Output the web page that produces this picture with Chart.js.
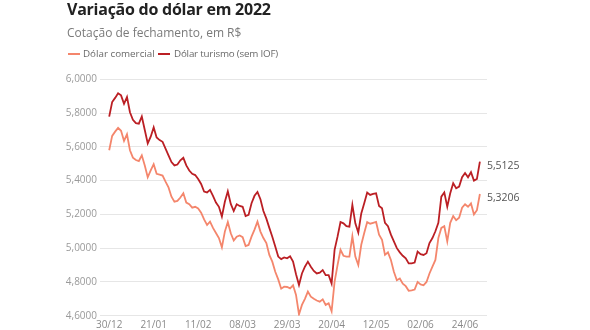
<!DOCTYPE html>
<html>
<head>
<meta charset="utf-8">
<script src="https://cdn.jsdelivr.net/npm/chart.js@4"></script>
<style>
  html,body{margin:0;padding:0;background:#fff;width:590px;height:330px;overflow:hidden;font-family:'Open Sans',sans-serif;}
  #wrap{position:relative;width:590px;height:330px;}
  canvas{position:absolute;left:0;top:0;}
  .t{position:absolute;white-space:nowrap;line-height:1;}
  #title{left:67px;top:0.8px;font-weight:700;font-size:16px;letter-spacing:-0.25px;color:#222;}
  #sub{left:67px;top:26.6px;font-size:12px;color:#7a7a7a;}
  .sw{position:absolute;height:2px;width:12px;top:53px;}
  .lg{position:absolute;top:49px;font-size:9.8px;color:#6a6a6a;white-space:nowrap;line-height:1;}
</style>
</head>
<body>
<div id="wrap">
  <canvas id="c" width="590" height="330"></canvas>
  <div class="t" id="title">Variação do dólar em 2022</div>
  <div class="t" id="sub">Cotação de fechamento, em R$</div>
  <div class="sw" style="left:68px;background:#f4866c"></div>
  <div class="lg" style="left:83px">Dólar comercial</div>
  <div class="sw" style="left:158px;background:#bb1f24"></div>
  <div class="lg" style="left:174px;letter-spacing:-0.2px">Dólar turismo (sem IOF)</div>
</div>
<script>
const dateLabels = ['30/12',
 '03/01','04/01','05/01','06/01','07/01','10/01','11/01','12/01','13/01','14/01',
 '17/01','18/01','19/01','20/01','21/01','24/01','25/01','26/01','27/01','28/01','31/01',
 '01/02','02/02','03/02','04/02','07/02','08/02','09/02','10/02','11/02',
 '14/02','15/02','16/02','17/02','18/02','21/02','22/02','23/02','24/02','25/02',
 '02/03','03/03','04/03','07/03','08/03','09/03','10/03','11/03',
 '14/03','15/03','16/03','17/03','18/03','21/03','22/03','23/03','24/03','25/03',
 '28/03','29/03','30/03','31/03',
 '01/04','04/04','05/04','06/04','07/04','08/04','11/04','12/04','13/04','14/04',
 '18/04','19/04','20/04','22/04','25/04','26/04','27/04','28/04','29/04',
 '02/05','03/05','04/05','05/05','06/05','09/05','10/05','11/05','12/05','13/05',
 '16/05','17/05','18/05','19/05','20/05','23/05','24/05','25/05','26/05','27/05',
 '30/05','31/05',
 '01/06','02/06','03/06','06/06','07/06','08/06','09/06','10/06',
 '13/06','14/06','15/06','17/06','20/06','21/06','22/06','23/06','24/06',
 '27/06','28/06','29/06','30/06','01/07'];

const dolarComercial = [
 5.5799,5.665,5.69,5.712,5.695,5.635,5.674,5.58,5.536,5.522,
 5.516,5.55,5.49,5.42,5.46,5.497,5.44,5.435,5.43,5.394,
 5.36,5.305,5.275,5.28,5.30,5.325,5.27,5.26,5.24,5.245,
 5.235,5.21,5.17,5.137,5.157,5.12,5.09,5.06,5.005,5.098,
 5.155,5.088,5.045,5.068,5.075,5.065,5.012,5.019,5.068,5.11,
 5.157,5.098,5.06,5.03,4.96,4.92,4.86,4.815,4.76,4.772,
 4.77,4.762,4.78,4.723,4.6075,4.664,4.70,4.743,4.713,4.70,
 4.69,4.683,4.697,4.664,4.674,4.626,4.80,4.90,4.99,4.955,
 4.95,4.95,5.07,4.95,4.90,5.02,5.09,5.155,5.145,5.15,
 5.155,5.08,5.05,4.96,4.975,4.93,4.86,4.81,4.82,4.79,
 4.775,4.748,4.75,4.755,4.80,4.785,4.78,4.80,4.85,4.89,
 4.93,5.06,5.12,5.13,5.04,5.15,5.19,5.165,5.18,5.24,
 5.26,5.245,5.265,5.20,5.225,5.3206];

const dolarTurismo = [
 5.779,5.865,5.89,5.917,5.905,5.855,5.895,5.805,5.76,5.74,
 5.737,5.78,5.70,5.62,5.66,5.715,5.655,5.64,5.63,5.59,
 5.55,5.51,5.49,5.495,5.52,5.535,5.49,5.46,5.44,5.433,
 5.41,5.38,5.335,5.33,5.345,5.31,5.27,5.245,5.187,5.275,
 5.337,5.262,5.22,5.26,5.25,5.245,5.19,5.197,5.266,5.31,
 5.333,5.29,5.22,5.175,5.12,5.068,5.01,4.95,4.935,4.945,
 4.94,4.952,4.92,4.845,4.782,4.85,4.89,4.92,4.89,4.865,
 4.85,4.855,4.87,4.84,4.84,4.79,4.99,5.068,5.155,5.147,
 5.13,5.127,5.256,5.147,5.092,5.206,5.266,5.329,5.315,5.321,
 5.325,5.25,5.236,5.15,5.13,5.08,5.04,5.00,4.975,4.955,
 4.94,4.91,4.91,4.915,4.98,4.965,4.96,4.97,5.03,5.06,
 5.10,5.15,5.305,5.33,5.245,5.325,5.385,5.355,5.365,5.42,
 5.445,5.42,5.45,5.40,5.41,5.5125];

const xTickIndex = [0,15,30,45,60,75,90,105,120];
const yTicks = [4.6,4.8,5.0,5.2,5.4,5.6,5.8,6.0];

const fmt = v => v.toFixed(4).replace('.', ',');

const endLabels = {
  id: 'endLabels',
  afterDatasetsDraw(chart) {
    const ctx = chart.ctx;
    ctx.save();
    ctx.font = "10.5px 'Open Sans'";
    ctx.fillStyle = '#555';
    ctx.textAlign = 'left';
    ctx.textBaseline = 'middle';
    chart.data.datasets.forEach((ds, i) => {
      const meta = chart.getDatasetMeta(i);
      const pt = meta.data[meta.data.length - 1];
      const v = ds.data[ds.data.length - 1].y;
      ctx.fillText(fmt(v), pt.x + 7, pt.y + 4);
    });
    ctx.restore();
  }
};

new Chart(document.getElementById('c'), {
  type: 'line',
  data: {
    datasets: [
      {
        label: 'Dólar comercial',
        data: dolarComercial.map((v, i) => ({x: i, y: v})),
        borderColor: '#f4866c',
        borderWidth: 1.8,
        pointRadius: 0,
        tension: 0,
        fill: false
      },
      {
        label: 'Dólar turismo (sem IOF)',
        data: dolarTurismo.map((v, i) => ({x: i, y: v})),
        borderColor: '#bb1f24',
        borderWidth: 1.8,
        pointRadius: 0,
        tension: 0,
        fill: false
      }
    ]
  },
  options: {
    responsive: false,
    animation: false,
    devicePixelRatio: 1,
    layout: {padding: {top: 79.3, right: 103, bottom: 0, left: 0}},
    plugins: {legend: {display: false}, tooltip: {enabled: false}, title: {display: false}},
    scales: {
      x: {
        type: 'linear',
        min: -3.1,
        max: 127.4,
        afterBuildTicks: axis => { axis.ticks = xTickIndex.map(v => ({value: v})); },
        afterFit: axis => { axis.height = 14.3; },
        grid: {display: false, drawTicks: false},
        border: {display: false},
        ticks: {
          autoSkip: false,
          maxRotation: 0,
          padding: 3,
          color: '#8a8a8a',
          font: {family: 'Open Sans', size: 10},
          callback: v => dateLabels[v]
        }
      },
      y: {
        min: 4.6,
        max: 6.0,
        afterBuildTicks: axis => { axis.ticks = yTicks.map(v => ({value: v})); },
        afterFit: axis => { axis.width = 100; },
        grid: {color: '#e6e6e6', lineWidth: 1, drawTicks: false},
        border: {display: false},
        ticks: {
          padding: 3,
          color: '#9a9a9a',
          font: {family: 'Open Sans', size: 10},
          callback: v => fmt(v)
        }
      }
    }
  },
  plugins: [endLabels]
});
</script>
</body>
</html>
